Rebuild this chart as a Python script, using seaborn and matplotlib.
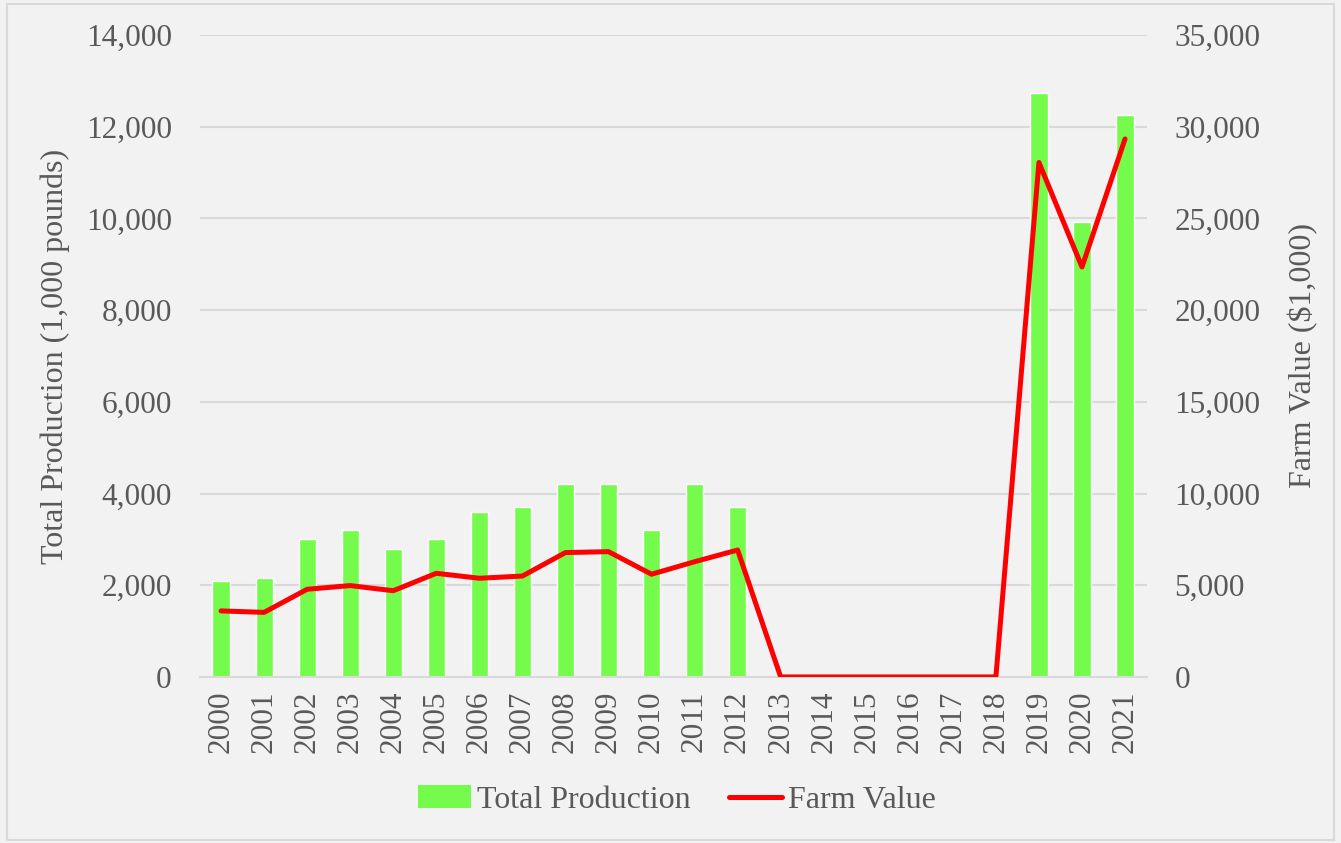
import matplotlib
matplotlib.use("Agg")
import matplotlib.pyplot as plt
import numpy as np
import pandas as pd
import seaborn as sns
from matplotlib.lines import Line2D
from matplotlib.patches import Patch, Rectangle
from matplotlib.ticker import FuncFormatter

years = [str(y) for y in range(2000, 2022)]
total_production = [2100, 2150, 3000, 3200, 2800, 3000, 3600, 3700, 4200, 4200, 3200,
                    4200, 3700, 0, 0, 0, 0, 0, 0, 12730, 9920, 12250]
farm_value = [3600, 3520, 4780, 4980, 4700, 5650, 5380, 5500, 6780, 6830, 5600,
              6280, 6920, 0, 0, 0, 0, 0, 0, 28050, 22350, 29330]

BG = "#F2F2F2"
TXT = "#595959"
GRID = "#D9D9D9"
GREEN = "#75FB4C"
RED = "#FF0000"

sns.set_theme(style="white")
plt.rcParams["font.family"] = ["Liberation Serif", "DejaVu Serif"]

df = pd.DataFrame({"year": years, "prod": total_production, "value": farm_value})
df["pos"] = np.arange(len(df))

fig = plt.figure(figsize=(13.41, 8.43), dpi=100, facecolor=BG)
ax = fig.add_axes([0.1488, 0.197, 0.7062, 0.7615])
ax.set_facecolor(BG)

sns.barplot(data=df, x="year", y="prod", color=GREEN, width=0.4,
            saturation=1, ax=ax, zorder=2)
ax.set_ylim(0, 14000)
ax.set_yticks(np.arange(0, 14001, 2000))
ax.yaxis.grid(True, color=GRID, linewidth=1.5, zorder=0)
ax.set_axisbelow(True)
ax.set_xlim(-0.5, len(years) - 0.5)
ax.yaxis.set_major_formatter(FuncFormatter(lambda v, p: f"{int(v):,}"))
ax.set_xlabel("")
ax.set_ylabel("Total Production (1,000 pounds)", fontsize=23, color=TXT, labelpad=11)
ax.tick_params(axis="y", length=0, pad=20, labelsize=22.5, labelcolor=TXT)
ax.tick_params(axis="x", length=0, pad=10, labelsize=22.5, labelcolor=TXT, labelrotation=90)
for s in ["left", "right", "top"]:
    ax.spines[s].set_visible(False)
ax.spines["bottom"].set_color(GRID)
ax.spines["bottom"].set_linewidth(1.5)

ax2 = ax.twinx()
sns.lineplot(data=df, x="pos", y="value", color=RED, linewidth=3.6, ax=ax2,
             solid_capstyle="round", solid_joinstyle="round", zorder=3)
ax2.set_ylim(0, 35000)
ax2.set_yticks(np.arange(0, 35001, 5000))
ax2.set_xlim(-0.5, len(years) - 0.5)
ax2.yaxis.set_major_formatter(FuncFormatter(lambda v, p: f"{int(v):,}"))
ax2.set_ylabel("Farm Value ($1,000)", fontsize=23, color=TXT, labelpad=20)
ax2.set_xlabel("")
ax2.tick_params(axis="y", length=0, pad=20, labelsize=22.5, labelcolor=TXT)
for s in ax2.spines.values():
    s.set_visible(False)

handles = [Patch(facecolor=GREEN, edgecolor="none"),
           Line2D([0], [0], color=RED, linewidth=3.6, solid_capstyle="round")]
fig.legend(handles, ["Total Production", "Farm Value"], loc="center",
           bbox_to_anchor=(0.505, 0.051), ncol=2, frameon=False, fontsize=23,
           labelcolor=TXT, handlelength=1.65, handletextpad=0.2, columnspacing=1.2)

fig.patches.append(Rectangle((0.005, 0.003), 0.99, 0.992, transform=fig.transFigure,
                             fill=False, edgecolor="#D9D9D9", linewidth=1.5))

fig.savefig("out.png", dpi=100, facecolor=BG)
